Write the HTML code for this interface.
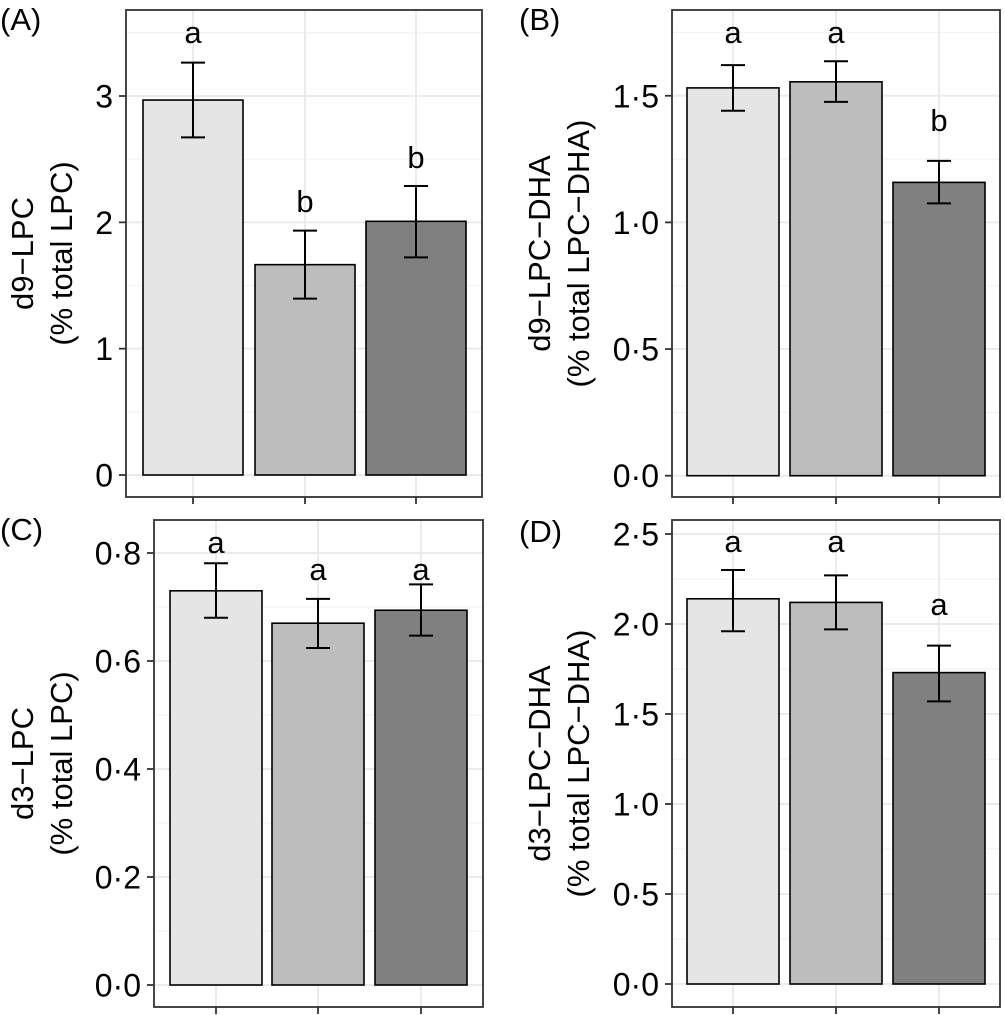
<!DOCTYPE html>
<html><head><meta charset="utf-8">
<style>
html,body{margin:0;padding:0;background:#fff;}
svg{display:block;font-family:"Liberation Sans",sans-serif;}
</style></head>
<body>
<svg id="fig" width="1005" height="1015" viewBox="0 0 1005 1015" xmlns="http://www.w3.org/2000/svg"></svg>
<script>
const categories = ["group-1","group-2","group-3"];
const fills = ["#e5e5e5","#bdbdbd","#808080"];

const valuesA = [2.968, 1.665, 2.008];
const lowA = [2.673, 1.396, 1.723];
const highA = [3.264, 1.934, 2.288];
const lettersA = ["a","b","b"];
const letterYA = [3.42, 2.08, 2.43];
const ticksA = [0,1,2,3];
const tickLabelsA = ["0","1","2","3"];

const valuesB = [1.531, 1.555, 1.158];
const lowB = [1.441, 1.476, 1.075];
const highB = [1.621, 1.636, 1.243];
const lettersB = ["a","a","b"];
const letterYB = [1.708, 1.708, 1.36];
const ticksB = [0,0.5,1,1.5];
const tickLabelsB = ["0·0","0·5","1·0","1·5"];

const valuesC = [0.730, 0.670, 0.694];
const lowC = [0.680, 0.624, 0.647];
const highC = [0.781, 0.715, 0.742];
const lettersC = ["a","a","a"];
const letterYC = [0.800, 0.750, 0.750];
const ticksC = [0,0.2,0.4,0.6,0.8];
const tickLabelsC = ["0·0","0·2","0·4","0·6","0·8"];

const valuesD = [2.14, 2.12, 1.73];
const lowD = [1.96, 1.97, 1.57];
const highD = [2.30, 2.27, 1.88];
const lettersD = ["a","a","a"];
const letterYD = [2.40, 2.40, 2.05];
const ticksD = [0,0.5,1,1.5,2,2.5];
const tickLabelsD = ["0·0","0·5","1·0","1·5","2·0","2·5"];

const panels = [
 {id:"a",label:"(A)",lx:0,ly:30,box:[126,10,482,497],zero:475,unit:126.33,vmax:3.68,minor:0.5,centers:[193,305,416],bw:100,
  vals:valuesA,low:lowA,high:highA,letters:lettersA,letterY:letterYA,ticks:ticksA,tl:tickLabelsA,t1:"d9−LPC",t2:"(% total LPC)",tx:[22,61]},
 {id:"b",label:"(B)",lx:519,ly:30,box:[672,10,1000,497],zero:475.7,unit:253.3,vmax:1.84,minor:0.25,centers:[733,836,939],bw:92,
  vals:valuesB,low:lowB,high:highB,letters:lettersB,letterY:letterYB,ticks:ticksB,tl:tickLabelsB,t1:"d9−LPC−DHA",t2:"(% total LPC−DHA)",tx:[539,578]},
 {id:"c",label:"(C)",lx:0,ly:540,box:[154,520,483,1007],zero:985,unit:540,vmax:0.861,minor:0.1,centers:[216,318,421],bw:92,
  vals:valuesC,low:lowC,high:highC,letters:lettersC,letterY:letterYC,ticks:ticksC,tl:tickLabelsC,t1:"d3−LPC",t2:"(% total LPC)",tx:[22,61]},
 {id:"d",label:"(D)",lx:519,ly:542,box:[672,520,1000,1007],zero:984,unit:180,vmax:2.58,minor:0.25,centers:[733,836,939],bw:92,
  vals:valuesD,low:lowD,high:highD,letters:lettersD,letterY:letterYD,ticks:ticksD,tl:tickLabelsD,t1:"d3−LPC−DHA",t2:"(% total LPC−DHA)",tx:[539,578]}
];
const NS="http://www.w3.org/2000/svg";
const svg=document.getElementById("fig");
function mk(tag,attrs,parent){const e=document.createElementNS(NS,tag);for(const k in attrs)e.setAttribute(k,attrs[k]);(parent||svg).appendChild(e);return e;}

panels.forEach(p=>{
  const g=mk("g",{});
  
  
  const [x0,y0,x1,y1]=p.box;
  const y=v=>p.zero-v*p.unit;
  mk("rect",{x:x0,y:y0,width:x1-x0,height:y1-y0,fill:"#fff"},g);
  for(let v=p.minor;v<p.vmax;v+=p.minor*2){const yy=y(v);if(yy>y0&&yy<y1){const l=mk("line",{x1:x0,x2:x1,y1:yy,y2:yy,stroke:"#f2f2f2","stroke-width":1.2},g);
    
    }}
  p.ticks.forEach(v=>{const l=mk("line",{x1:x0,x2:x1,y1:y(v),y2:y(v),stroke:"#ebebeb","stroke-width":2},g);
    
    });
  p.centers.forEach(c=>{const l=mk("line",{x1:c,x2:c,y1:y0,y2:y1,stroke:"#ebebeb","stroke-width":2},g);
    
    });
  p.vals.forEach((v,i)=>{const c=p.centers[i];
    const r=mk("rect",{x:c-p.bw/2,y:y(v),width:p.bw,height:y(0)-y(v),fill:fills[i],stroke:"#000","stroke-width":1.6},g);
    
    
    const e=mk("path",{d:`M${c},${y(p.low[i])}V${y(p.high[i])}M${c-12},${y(p.high[i])}H${c+12}M${c-12},${y(p.low[i])}H${c+12}`,stroke:"#000","stroke-width":2,fill:"none"},g);
    
    
    const t=mk("text",{x:c,y:y(p.letterY[i]),"text-anchor":"middle","font-size":31,fill:"#000"},g);
    t.textContent=p.letters[i];
    
    
  });
  const b=mk("rect",{x:x0,y:y0,width:x1-x0,height:y1-y0,fill:"none",stroke:"#333","stroke-width":1.8},g);
  
  
  p.ticks.forEach((v,i)=>{mk("line",{x1:x0-7,x2:x0,y1:y(v),y2:y(v),stroke:"#333","stroke-width":1.8},g);
    const t=mk("text",{x:x0-13,y:y(v)+11.5,"text-anchor":"end","font-size":32,fill:"#000"},g);
    t.textContent=p.tl[i];
    
    });
  p.centers.forEach(c=>{const l=mk("line",{x1:c,x2:c,y1:y1,y2:y1+7,stroke:"#333","stroke-width":1.8},g);
    
    });
  const cy=(y0+y1)/2;
  [p.t1,p.t2].forEach((s,k)=>{const t=mk("text",{x:p.tx[k],y:cy,"text-anchor":"middle","font-size":31,fill:"#000",transform:`rotate(-90 ${p.tx[k]} ${cy})`,dy:11},g);
    t.textContent=s;
    
    });
  const lab=mk("text",{x:p.lx,y:p.ly,"font-size":31,fill:"#000"},g);
  lab.textContent=p.label;
  
  
});
</script>
</body></html>
